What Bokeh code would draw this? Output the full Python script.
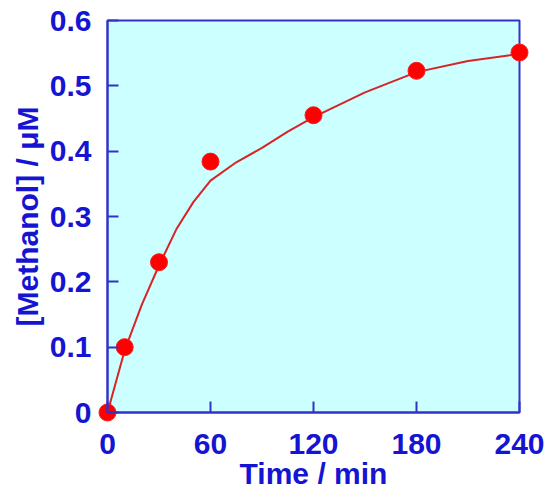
from bokeh.plotting import figure
from bokeh.models import Range1d, FixedTicker, ColumnDataSource, LinearAxis
from bokeh.embed import file_html
from bokeh.resources import INLINE

# measured data
time_min = [0, 10, 30, 60, 120, 180, 240]
methanol = [0.0, 0.1, 0.23, 0.384, 0.455, 0.523, 0.551]

# fitted curve
fit_time = [0, 10, 20, 30, 40, 50, 60, 75, 90, 105, 120, 150, 180, 210, 240]
fit_methanol = [0.0, 0.095, 0.165, 0.225, 0.28, 0.322, 0.355, 0.383, 0.405, 0.43, 0.452, 0.49, 0.521, 0.538, 0.549]

x_ticks = [0, 60, 120, 180, 240]
x_tick_labels = ["0", "60", "120", "180", "240"]
y_ticks = [0, 0.1, 0.2, 0.3, 0.4, 0.5, 0.6]
y_tick_labels = ["0", "0.1", "0.2", "0.3", "0.4", "0.5", "0.6"]

X_MIN, X_MAX = 0, 240
Y_MIN, Y_MAX = 0, 0.6

BLUE = "#1414d2"
FRAME = "#3232c8"
FONT = "Liberation Sans"

# frame covers the whole canvas so that edge markers are not clipped;
# the plotting box is drawn as a quad and axes sit at fixed locations
W, H = 557, 492
L, R, T, B = 107, 519, 20, 412
sx = (R - L) / (X_MAX - X_MIN)
sy = (B - T) / (Y_MAX - Y_MIN)
x_range = Range1d(X_MIN - L / sx, X_MAX + (W - R) / sx)
y_range = Range1d(Y_MIN - (H - B) / sy, Y_MAX + T / sy)

p = figure(width=W, height=H, output_backend="svg", toolbar_location=None,
           x_range=x_range, y_range=y_range,
           x_axis_location=None, y_axis_location=None,
           min_border=0)
p.background_fill_color = "white"
p.border_fill_color = "white"
p.outline_line_color = None
p.grid.visible = False

p.quad(left=[X_MIN], right=[X_MAX], bottom=[Y_MIN], top=[Y_MAX],
       fill_color="#ccffff", line_color=FRAME, line_width=2)

xaxis = LinearAxis(fixed_location=Y_MIN, bounds=(X_MIN, X_MAX))
yaxis = LinearAxis(fixed_location=X_MIN, bounds=(Y_MIN, Y_MAX))
for ax in (xaxis, yaxis):
    ax.axis_line_color = FRAME
    ax.axis_line_width = 2
    ax.major_tick_line_color = FRAME
    ax.major_tick_line_width = 2
    ax.major_tick_in = 11
    ax.major_tick_out = 0
    ax.minor_tick_line_color = None
    ax.major_label_text_font = FONT
    ax.major_label_text_font_style = "bold"
    ax.major_label_text_font_size = "30px"
    ax.major_label_text_color = BLUE
    ax.axis_label_text_font = FONT
    ax.axis_label_text_font_style = "bold"
    ax.axis_label_text_color = BLUE
    ax.axis_label_text_font_size = "30px"

xaxis.ticker = FixedTicker(ticks=x_ticks)
xaxis.major_label_overrides = {t: l for t, l in zip(x_ticks, x_tick_labels)}
yaxis.ticker = FixedTicker(ticks=y_ticks)
yaxis.major_label_overrides = {t: l for t, l in zip(y_ticks, y_tick_labels)}
xaxis.major_label_standoff = 21
yaxis.major_label_standoff = 16
xaxis.axis_label = "Time / min"
yaxis.axis_label = "[Methanol] / μM"
xaxis.axis_label_standoff = 0
yaxis.axis_label_standoff = 3
p.add_layout(xaxis, "below")
p.add_layout(yaxis, "left")

p.line(fit_time, fit_methanol, line_color="#d82424", line_width=2)
src = ColumnDataSource(dict(x=time_min, y=methanol))
p.scatter("x", "y", source=src, size=17, fill_color="#ff0000", line_color="#ff1a1a")

open("out.html", "w").write(file_html(p, INLINE))
